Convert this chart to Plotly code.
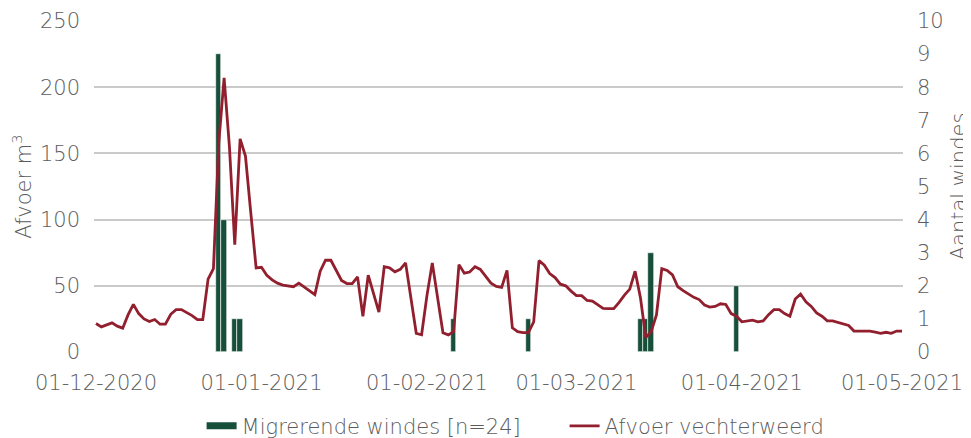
import pandas as pd
import plotly.graph_objects as go

# Daily discharge Vechterweerd (m3), 01-12-2020 .. 01-05-2021
start_date = "2020-12-01"
afvoer = [
    21.5, 19, 20.5, 22, 19.5, 18, 28, 36, 29, 25,
    23, 24.5, 21, 21, 28.5, 32, 32, 30, 27.5, 24.5,
    24.5, 55, 63, 158, 207, 155, 81, 161, 148, 105,
    63.5, 64, 58, 54.5, 52, 50.5, 50, 49.3, 52, 49,
    46.5, 43.3, 61, 69.3, 69.3, 62, 54, 51.7, 51.7, 56.7,
    27, 58, 44, 30.2, 64.4, 63.6, 60.6, 62.4, 67.3, 40,
    14.1, 13, 42.6, 67.3, 42, 14.5, 12.9, 15.3, 66, 59.5,
    60.4, 64.4, 62.4, 57, 52, 49.5, 48.8, 61.6, 18.3, 15.3,
    14.6, 14.6, 22.8, 69, 65.6, 59.2, 56.2, 51.2, 50, 46,
    42.6, 42.6, 38.9, 38.4, 36, 33, 32.7, 32.7, 37.5, 43,
    47.5, 61, 41, 11, 15.3, 28, 63, 61.6, 58.2, 49.3,
    46.3, 43.8, 41.3, 39.6, 35.5, 33.9, 34.4, 36.4, 35.9, 29,
    27, 22.8, 23.5, 24, 22.8, 23.5, 28.2, 32, 32, 29,
    27, 40, 43.8, 38, 34.4, 29.5, 27, 23.5, 23.5, 22.3,
    21.5, 20, 15.8, 15.8, 15.8, 15.8, 15, 14.1, 14.9, 14.1,
    15.8, 15.8,
]
afvoer_dates = pd.date_range(start_date, periods=len(afvoer), freq="D")

# Migrating windes (fish) counts per day
windes_dates = ["2020-12-24", "2020-12-25", "2020-12-27", "2020-12-28",
                "2021-02-06", "2021-02-20", "2021-03-13", "2021-03-14",
                "2021-03-15", "2021-03-31"]
windes_counts = [9, 4, 1, 1, 1, 1, 1, 1, 3, 2]

tick_dates = ["2020-12-01", "2021-01-01", "2021-02-01", "2021-03-01",
              "2021-04-01", "2021-05-01"]
tick_labels = ["01-12-2020", "01-01-2021", "01-02-2021", "01-03-2021",
               "01-04-2021", "01-05-2021"]

GREEN = "#17503a"
RED = "#921f2e"
TXT = "#5c5c5c"
FONT = "DejaVu Sans"
FS = 21
W = 200

fig = go.Figure()
fig.add_trace(go.Bar(
    x=pd.to_datetime(windes_dates), y=windes_counts,
    name="Migrerende windes [n=24]",
    marker=dict(color=GREEN, line=dict(color="#ffffff", width=0.6)),
    width=86400000 * 1.0,
    yaxis="y", showlegend=False,
))
# legend proxy so the bar series shows a wide bar-shaped key like the original
fig.add_trace(go.Scatter(
    x=[None], y=[None], mode="lines", name="Migrerende windes [n=24]",
    line=dict(color=GREEN, width=7), yaxis="y", hoverinfo="skip",
))
fig.add_trace(go.Scatter(
    x=afvoer_dates, y=afvoer, mode="lines",
    name="Afvoer vechterweerd",
    line=dict(color=RED, width=2.8),
    yaxis="y2",
))

fig.update_layout(
    width=963, height=430,
    margin=dict(l=86, r=68, t=13, b=86, autoexpand=False),
    plot_bgcolor="white", paper_bgcolor="white",
    font=dict(family=FONT, size=FS, color=TXT, weight=W),
    showlegend=True,
    legend=dict(orientation="h", x=0.133, xanchor="left", y=-0.224,
                yanchor="middle", font=dict(size=FS, color=TXT, weight=W),
                traceorder="normal", itemwidth=30,
                entrywidth=318, entrywidthmode="pixels"),
    bargap=0,
    xaxis=dict(
        type="date", automargin=False,
        range=["2020-11-30 15:00", "2021-05-01 04:30"],
        tickvals=pd.to_datetime(tick_dates), ticktext=tick_labels,
        showgrid=False, zeroline=False, showline=False, ticks="",
        tickfont=dict(size=FS, color=TXT, weight=W),
        ticklabelstandoff=16,
    ),
    yaxis=dict(
        side="right", range=[0, 10], dtick=1, showgrid=False, automargin=False,
        zeroline=False, showline=False, ticks="",
        title=dict(text="Aantal windes", font=dict(size=FS, color=TXT, weight=W), standoff=12),
        tickfont=dict(size=FS, color=TXT, weight=W),
        ticklabelstandoff=13,
    ),
    yaxis2=dict(
        side="left", overlaying="y", range=[0, 250], dtick=50, automargin=False,
        showgrid=True, gridcolor="#cacaca", gridwidth=1.5,
        zeroline=False, showline=False, ticks="",
        title=dict(text="Afvoer m<sup>3</sup>", font=dict(size=FS, color=TXT, weight=W), standoff=18),
        tickfont=dict(size=FS, color=TXT, weight=W),
        ticklabelstandoff=13,
    ),
)

fig.write_html("out.html")
